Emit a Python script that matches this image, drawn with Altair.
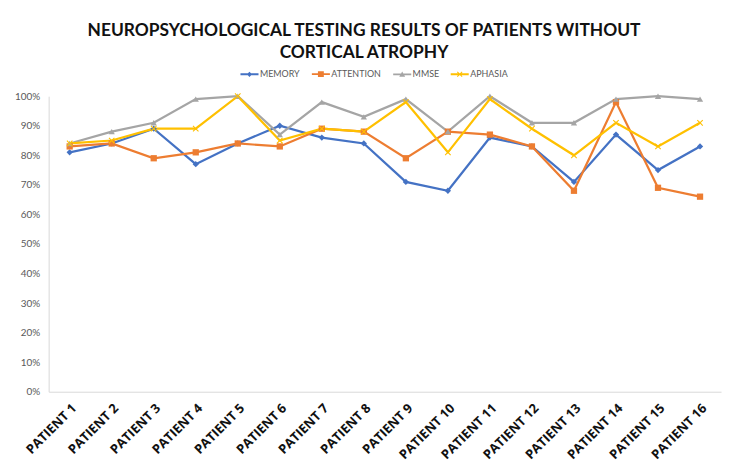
import altair as alt
import pandas as pd

patients = ["PATIENT 1", "PATIENT 2", "PATIENT 3", "PATIENT 4", "PATIENT 5", "PATIENT 6",
            "PATIENT 7", "PATIENT 8", "PATIENT 9", "PATIENT 10", "PATIENT 11", "PATIENT 12",
            "PATIENT 13", "PATIENT 14", "PATIENT 15", "PATIENT 16"]
series_names = ["MEMORY", "ATTENTION", "MMSE", "APHASIA"]
memory = [81, 84, 89, 77, 84, 90, 86, 84, 71, 68, 86, 83, 71, 87, 75, 83]
attention = [83, 84, 79, 81, 84, 83, 89, 88, 79, 88, 87, 83, 68, 98, 69, 66]
mmse = [84, 88, 91, 99, 100, 87, 98, 93, 99, 88, 100, 91, 91, 99, 100, 99]
aphasia = [84, 85, 89, 89, 100, 85, 89, 88, 98, 81, 99, 89, 80, 91, 83, 91]
y_ticks = [0, 0.1, 0.2, 0.3, 0.4, 0.5, 0.6, 0.7, 0.8, 0.9, 1.0]

colors = ["#4472C4", "#ED7D31", "#A5A5A5", "#FFC000"]
x_shape = "M-1,-0.75L-0.75,-1L0,-0.25L0.75,-1L1,-0.75L0.25,0L1,0.75L0.75,1L0,0.25L-0.75,1L-1,0.75L-0.25,0Z"
shapes = ["diamond", "square", "triangle-up", x_shape]
# legend symbols: a short line segment with the series marker on top
seg = "M-2.6,-0.27H2.6V0.27H-2.6Z "
legend_shapes = [
    seg + "M0,-0.75L0.75,0L0,0.75L-0.75,0Z",
    seg + "M-0.85,-0.85H0.85V0.85H-0.85Z",
    seg + "M0,-0.85L0.85,0.7H-0.85Z",
    seg + "M-0.8,-0.6L-0.6,-0.8L0,-0.2L0.6,-0.8L0.8,-0.6L0.2,0L0.8,0.6L0.6,0.8L0,0.2L-0.6,0.8L-0.8,0.6L-0.2,0Z",
]

rows = []
for name, vals in zip(series_names, [memory, attention, mmse, aphasia]):
    for p, v in zip(patients, vals):
        rows.append({"patient": p, "series": name, "value": v / 100})
df = pd.DataFrame(rows)

FONT = "Lato"

x_enc = alt.X("patient:N", sort=patients, scale=alt.Scale(type="point", padding=0.5),
              axis=alt.Axis(title=None, labelAngle=-45, labelFontWeight="bold", labelFontSize=13,
                            labelColor="#111111", labelFont="Open Sans", ticks=False, labelPadding=10,
                            domainColor="#D9D9D9", grid=False))
y_enc = alt.Y("value:Q", scale=alt.Scale(domain=[0, 1], nice=False),
              axis=alt.Axis(title=None, format=".0%", values=y_ticks, grid=False, ticks=False,
                            domainColor="#D9D9D9", labelColor="#595959", labelFontSize=10,
                            labelFont=FONT, labelPadding=9))
color_scale = alt.Scale(domain=series_names, range=colors)

lines = alt.Chart(df).mark_line(strokeWidth=2.25).encode(
    x=x_enc, y=y_enc,
    color=alt.Color("series:N", scale=color_scale, legend=None),
)
points = alt.Chart(df).mark_point(filled=True, opacity=1, size=40).encode(
    x=x_enc, y=y_enc,
    color=alt.Color("series:N", scale=color_scale, legend=None),
    shape=alt.Shape("series:N", scale=alt.Scale(domain=series_names, range=shapes), legend=None),
)
legend = alt.Legend(title=None, orient="none", direction="horizontal",
                    legendX=198, legendY=-27, labelFontSize=9, labelColor="#595959",
                    labelFont=FONT, symbolSize=49, columnPadding=8, labelOffset=6,
                    symbolOpacity=1)
legend_layer = alt.Chart(df).mark_point(filled=True, opacity=0, size=49).encode(
    x=x_enc, y=y_enc,
    color=alt.Color("series:N", scale=alt.Scale(domain=series_names, range=colors), legend=legend),
    shape=alt.Shape("series:N", scale=alt.Scale(domain=series_names, range=legend_shapes), legend=legend),
)

chart = alt.layer(lines, points, legend_layer).resolve_scale(
    color="independent", shape="independent"
).properties(
    width=678, height=298,
    padding={"left": 41, "top": 87, "right": 5, "bottom": 76},
    autosize=alt.AutoSizeParams(type="none"),
    title=alt.TitleParams(
        text=["NEUROPSYCHOLOGICAL TESTING RESULTS OF PATIENTS WITHOUT", "CORTICAL ATROPHY"],
        fontSize=17.5, fontWeight="bold", font=FONT, color="#111111", anchor="middle",
        dx=-21, offset=8, lineHeight=22,
    ),
).configure_view(stroke=None)

chart.save("out.html", embed_options={"renderer": "svg", "actions": False})
